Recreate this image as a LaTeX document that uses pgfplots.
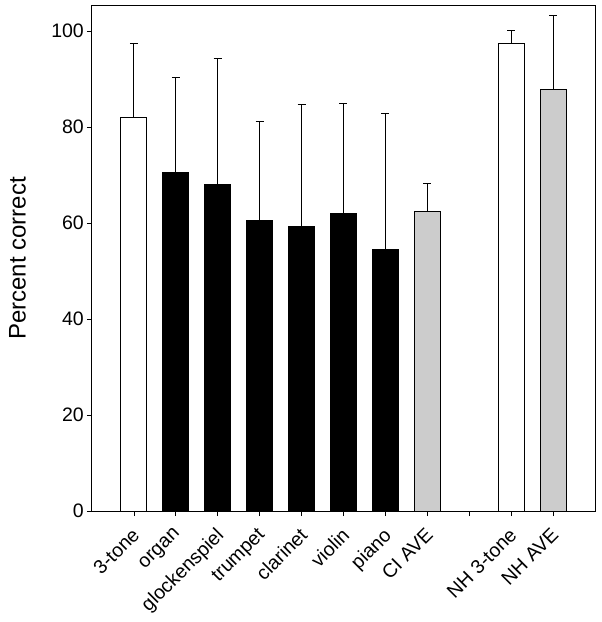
\documentclass[border=0pt]{standalone}
\usepackage{pgfplots}
\pgfplotsset{compat=1.18}
\usepackage{fontspec}
\setmainfont{Liberation Sans}
\definecolor{barGray}{HTML}{CCCCCC}
\begin{document}
\begin{tikzpicture}
\begin{axis}[
  scale only axis,
  width=503pt, height=505pt,
  xmin=-1, xmax=11,
  ymin=0, ymax=105.2,
  ytick={0,20,40,60,80,100},
  xtick={0,1,2,3,4,5,6,7,8,9,10},
  xticklabels={3-tone,organ,glockenspiel,trumpet,clarinet,violin,piano,CI AVE,,NH 3-tone,NH AVE},
  tick align=outside,
  xtick pos=bottom, ytick pos=left,
  major tick length=5pt,
  tick style={black, line width=0.8pt},
  axis line style={black, line width=1pt},
  /pgf/number format/assume math mode=true,
  yticklabel style={font=\fontsize{19.5}{21}\selectfont, inner sep=3pt},
  xticklabel style={font=\fontsize{19.5}{21}\selectfont, xshift=-3pt, yshift=-9pt, rotate=45, anchor=north east, inner sep=1pt},
  ylabel={Percent correct},
  ylabel style={font=\fontsize{24}{26}\selectfont, at={(axis description cs:-0.148,0.50)}, anchor=center, rotate=0},
  every axis plot/.append style={ybar, bar shift=0pt, bar width=0.62, draw=black, line width=0.9pt},
  error bars/error bar style={black, line width=1pt},
  error bars/error mark options={rotate=90, mark size=4pt, line width=1pt, black},
]
% white bars
\addplot[fill=white, error bars/.cd, y dir=plus, y explicit]
  coordinates {(0,81.9) +- (0,15.5) (9,97.5) +- (0,2.6)};
% black bars
\addplot[fill=black, error bars/.cd, y dir=plus, y explicit]
  coordinates {(1,70.5) +- (0,19.9) (2,68.1) +- (0,26.1) (3,60.6) +- (0,20.5) (4,59.3) +- (0,25.3) (5,61.9) +- (0,22.9) (6,54.4) +- (0,28.4)};
% gray bars
\addplot[fill=barGray, error bars/.cd, y dir=plus, y explicit]
  coordinates {(7,62.4) +- (0,5.9) (10,87.9) +- (0,15.4)};
\end{axis}
\path (-92pt,-111pt) rectangle (510pt,511pt);
\end{tikzpicture}
\end{document}
